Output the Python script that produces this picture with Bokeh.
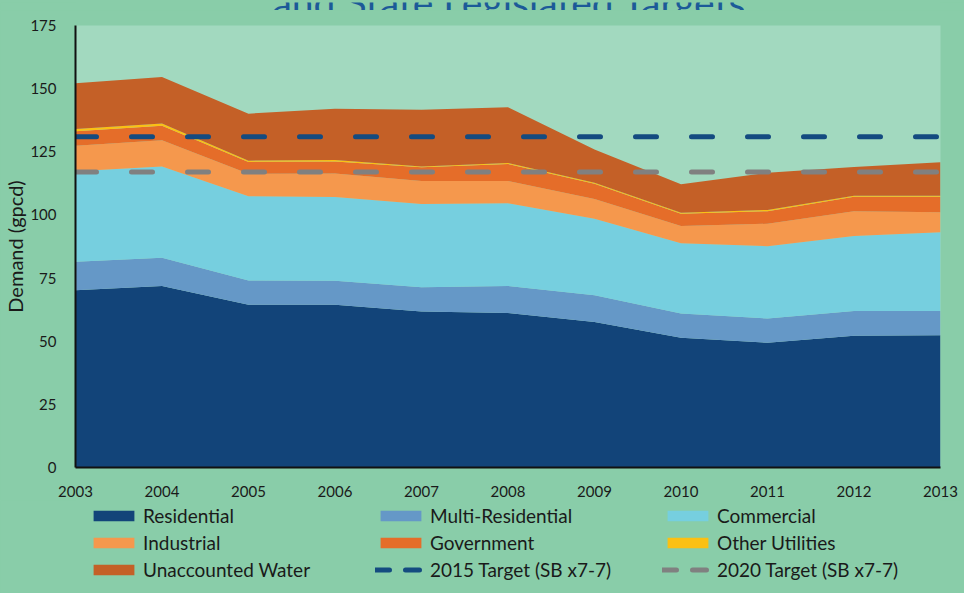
from bokeh.plotting import figure
from bokeh.layouts import column
from bokeh.models import (ColumnDataSource, Legend, LegendItem, FixedTicker, Label,
                          Range1d)
from bokeh.embed import file_html
from bokeh.resources import INLINE

# ---- data (gallons per capita per day) ----
years = [2003, 2004, 2005, 2006, 2007, 2008, 2009, 2010, 2011, 2012, 2013]
residential = [70.2, 71.9, 64.4, 64.4, 61.8, 61.2, 57.6, 51.4, 49.4, 52.2, 52.4]
multi_residential = [11.3, 11.1, 9.6, 9.5, 9.6, 10.7, 10.6, 9.6, 9.6, 9.8, 9.6]
commercial = [35.8, 36.2, 33.4, 33.2, 32.9, 32.7, 30.3, 27.8, 28.6, 29.7, 31.1]
industrial = [10.1, 10.4, 8.9, 9.3, 9.1, 8.8, 7.8, 6.8, 8.9, 9.8, 8.0]
government = [5.7, 5.7, 4.7, 4.8, 5.5, 6.8, 6.0, 4.9, 5.0, 5.7, 6.1]
other_utilities = [0.9, 0.9, 0.5, 0.5, 0.3, 0.4, 0.4, 0.4, 0.5, 0.4, 0.4]
unaccounted = [18.1, 18.4, 18.6, 20.3, 22.4, 22.0, 13.2, 11.2, 14.7, 11.4, 13.3]
target_2015 = 131
target_2020 = 117
y_ticks = [0, 25, 50, 75, 100, 125, 150, 175]

categories = ["Residential", "Multi-Residential", "Commercial", "Industrial",
              "Government", "Other Utilities", "Unaccounted Water"]
series = [residential, multi_residential, commercial, industrial,
          government, other_utilities, unaccounted]
colors = ["#124479", "#6598c7", "#76cfdf", "#f5984d", "#e56d29", "#fbc013", "#c46027"]
target_labels = ["2015 Target (SB x7-7)", "2020 Target (SB x7-7)"]
target_colors = ["#144b80", "#808080"]
title_text = "and State Legislated Targets"

FONT = "Lato"
OUTER = "#89cda9"
NAN = float("nan")


def strip(height):
    f = figure(width=964, height=height, output_backend="svg", toolbar_location=None,
               x_range=Range1d(0, 1), y_range=Range1d(0, 1),
               x_axis_location=None, y_axis_location=None,
               min_border_left=0, min_border_right=0, min_border_top=0,
               min_border_bottom=0, background_fill_color=OUTER,
               border_fill_color=OUTER, outline_line_color=None)
    f.grid.visible = False
    return f


# ---------------- title strip (top of the title is cropped) ----------------
tf = strip(10)
tf.add_layout(Label(x=434, y=11, x_units="screen", y_units="screen", text=title_text,
                    text_align="center", text_baseline="alphabetic",
                    text_font=FONT, text_font_size="39px", text_color="#1c5a98"))

# ---------------- main chart ----------------
data = {"year": years}
for name, vals in zip(categories, series):
    data[name] = vals
source = ColumnDataSource(data)

p = figure(width=964, height=490, output_backend="svg", toolbar_location=None,
           x_range=(years[0], years[-1]), y_range=(0, 175),
           min_border_left=75, min_border_right=24, min_border_top=15,
           min_border_bottom=33,
           background_fill_color="#a2d9bf", border_fill_color=OUTER,
           outline_line_color=None)

areas = p.varea_stack(stackers=categories, x="year", color=colors, source=source)

for val, col in zip([target_2015, target_2020], target_colors):
    p.line(x=[years[0], years[-1]], y=[val, val], line_color=col,
           line_width=5, line_dash="21 35", line_cap="round")

p.grid.visible = False
for ax in (p.xaxis[0], p.yaxis[0]):
    ax.axis_line_color = "#111111"
    ax.axis_line_width = 2
    ax.major_tick_line_color = None
    ax.minor_tick_line_color = None
    ax.major_label_text_font = FONT
    ax.major_label_text_font_size = "15px"
    ax.major_label_text_color = "#1a1a1a"

p.xaxis.ticker = FixedTicker(ticks=years)
p.xaxis.major_label_standoff = 12
p.yaxis.ticker = FixedTicker(ticks=y_ticks)
p.yaxis.major_label_standoff = 13
p.yaxis.axis_label = "Demand (gpcd)"
p.yaxis.axis_label_text_font = FONT
p.yaxis.axis_label_text_font_size = "20px"
p.yaxis.axis_label_text_font_style = "normal"
p.yaxis.axis_label_text_color = "#1a1a1a"
p.yaxis.axis_label_standoff = 0

# ---------------- legend strip ----------------
lf = strip(93)
items = []
for name, col in zip(categories, colors):
    r = lf.varea(x=[NAN, NAN], y1=[NAN, NAN], y2=[NAN, NAN], fill_color=col)
    items.append(LegendItem(label=name, renderers=[r]))
for name, col in zip(target_labels, target_colors):
    r = lf.line(x=[NAN, NAN], y=[NAN, NAN], line_color=col, line_width=5,
                line_dash="14 16", line_cap="round")
    items.append(LegendItem(label=name, renderers=[r]))

legend = Legend(items=items, orientation="horizontal", ncols=3,
                location=(13, 12), padding=0, margin=0, spacing=4,
                glyph_width=51, glyph_height=13, label_standoff=4,
                label_width=228, label_height=20,
                label_text_font=FONT, label_text_font_size="19px",
                label_text_color="#1a1a1a",
                background_fill_alpha=0, border_line_color=None)
lf.add_layout(legend, "center")

layout = column(tf, p, lf, spacing=0, styles={"background-color": OUTER})
open("out.html", "w").write(file_html(layout, INLINE))
